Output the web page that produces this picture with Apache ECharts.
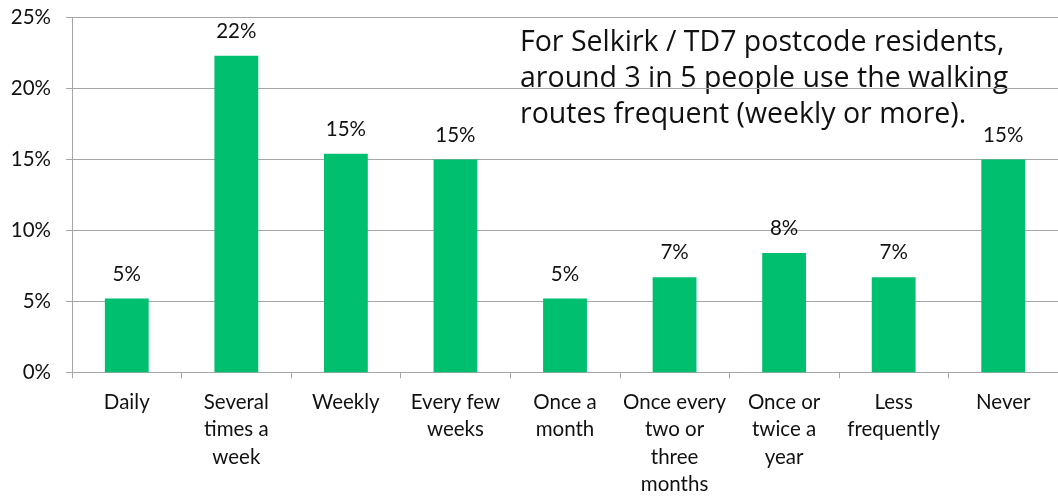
<!DOCTYPE html>
<html>
<head>
<meta charset="utf-8">
<script src="https://cdn.jsdelivr.net/npm/echarts@6/dist/echarts.min.js"></script>
<style>html,body{margin:0;padding:0;background:#fff}#c{width:1058px;height:499px}</style>
</head>
<body>
<div id="c"></div>
<script>
const categories = ["Daily", "Several\ntimes a\nweek", "Weekly", "Every few\nweeks", "Once a\nmonth", "Once every\ntwo or\nthree\nmonths", "Once or\ntwice a\nyear", "Less\nfrequently", "Never"];
const values = [5.2, 22.3, 15.4, 15.0, 5.2, 6.7, 8.4, 6.7, 15.0];
const yTicks = [0, 5, 10, 15, 20, 25];
const note = "For Selkirk / TD7 postcode residents,\naround 3 in 5 people use the walking\nroutes frequent (weekly or more).";

const font = "Lato, 'Noto Sans', sans-serif";
const chart = echarts.init(document.getElementById('c'), null, {renderer: 'canvas'});
chart.setOption({
  animation: false,
  backgroundColor: '#fff',
  grid: {left: 72, right: -8, top: 17.5, bottom: 126.7, containLabel: false},
  xAxis: {
    type: 'category',
    data: categories,
    axisLine: {lineStyle: {color: '#a6a6a6', width: 1}},
    axisTick: {show: true, length: 6, lineStyle: {color: '#a6a6a6'}},
    axisLabel: {interval: 0, color: '#111', fontFamily: font, fontSize: 20.5, lineHeight: 27.5, margin: 16}
  },
  yAxis: {
    type: 'value',
    min: yTicks[0], max: yTicks[yTicks.length - 1], interval: 5,
    axisLine: {show: true, lineStyle: {color: '#a6a6a6', width: 1}},
    axisTick: {show: true, length: 6, lineStyle: {color: '#a6a6a6'}},
    splitLine: {lineStyle: {color: '#a6a6a6', width: 1}},
    axisLabel: {color: '#111', fontFamily: font, fontSize: 20.5, margin: 21, formatter: '{value}%'}
  },
  series: [{
    type: 'bar',
    data: values,
    barWidth: '40%',
    itemStyle: {color: '#00bf6f'},
    label: {show: true, position: 'top', distance: 14, color: '#111', fontFamily: font, fontSize: 20.5,
      formatter: p => Math.round(p.value) + '%'}
  }],
  graphic: [{
    type: 'text', left: 520, top: 25,
    style: {text: note, font: "28.5px 'Open Sans', sans-serif", fill: '#111', lineHeight: 36}
  }]
});
</script>
</body>
</html>
